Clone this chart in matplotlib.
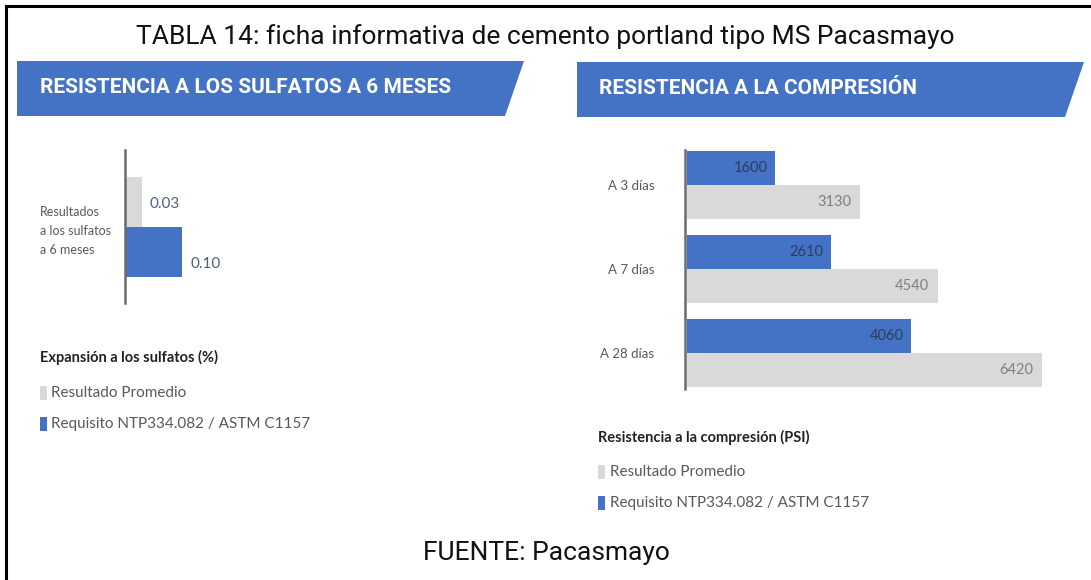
import matplotlib
matplotlib.use("Agg")
import matplotlib.pyplot as plt
from matplotlib.patches import Polygon, Rectangle
from matplotlib.lines import Line2D
from matplotlib import font_manager as fm

names = {f.name for f in fm.fontManager.ttflist}
narrow = "Liberation Sans Narrow" if "Liberation Sans Narrow" in names else "Roboto"
body = "Lato" if "Lato" in names else "DejaVu Sans"

# ---------------- data ----------------
title = "TABLA 14: ficha informativa de cemento portland tipo MS Pacasmayo"
source = "FUENTE: Pacasmayo"
left_header = "RESISTENCIA A LOS SULFATOS A 6 MESES"
right_header = "RESISTENCIA A LA COMPRESIÓN"

sulf_category = ["Resultados\na los sulfatos\na 6 meses"]
sulf_promedio = [0.03]
sulf_requisito = [0.10]
sulf_legend_title = "Expansión a los sulfatos (%)"

comp_categories = ["A 3 días", "A 7 días", "A 28 días"]
comp_requisito = [1600, 2610, 4060]
comp_promedio = [3130, 4540, 6420]
comp_legend_title = "Resistencia a la compresión (PSI)"

series_names = ["Resultado Promedio", "Requisito NTP334.082 / ASTM C1157"]

BLUE = "#4472c4"
GRAY = "#d9d9d9"
BANNER = "#4472c4"
TXT = "#595959"

W, H = 1091, 580
fig = plt.figure(figsize=(W / 100, H / 100), dpi=100)
fig.patch.set_facecolor("white")

def fx(px):
    return px / W

def fy(py):
    return 1 - py / H

# border (top and left)
fig.add_artist(Line2D([fx(6), fx(1091)], [fy(6), fy(6)], color="black", lw=2.2))
fig.add_artist(Line2D([fx(6), fx(6)], [fy(6), fy(580)], color="black", lw=2.2))

# title
fig.text(fx(545), fy(37), title, ha="center", va="center", fontsize=19,
         family=narrow, color="#111111")

# banners
def banner(x0, x1, x2, y0, y1, text, tx):
    poly = Polygon([(fx(x0), fy(y0)), (fx(x1), fy(y0)), (fx(x2), fy(y1)), (fx(x0), fy(y1))],
                   closed=True, transform=fig.transFigure, facecolor=BANNER, edgecolor="none")
    fig.add_artist(poly)
    fig.text(fx(tx), fy((y0 + y1) / 2 - 1), text, ha="left", va="center", color="white",
             fontsize=15, fontweight="bold", family=narrow)

banner(17, 524, 505, 61, 116, left_header, 40)
banner(577, 1084, 1065, 62, 117, right_header, 599)

# ---------------- left chart ----------------
sx_scale = 570.0  # px per unit
axl_w = 130
axl = fig.add_axes([fx(125), fy(303), axl_w / W, (303 - 150) / H])
ypos = list(range(len(sulf_category)))
bh = 0.5
for i in ypos:
    axl.barh(i - bh / 2, sulf_promedio[i], height=bh, color=GRAY, left=0.0004)
    axl.barh(i + bh / 2, sulf_requisito[i], height=bh, color=BLUE, left=0.0004)
    axl.annotate(f"{sulf_promedio[i]:.2f}", (sulf_promedio[i], i - bh / 2 + 0.03),
                 xytext=(5, 0), textcoords="offset points", va="center", ha="left",
                 fontsize=11, color="#4f5f78", family=body)
    axl.annotate(f"{sulf_requisito[i]:.2f}", (sulf_requisito[i], i + bh / 2 + 0.12),
                 xytext=(6, 0), textcoords="offset points", va="center", ha="left",
                 fontsize=11, color="#4f5f78", family=body)
axl.set_xlim(0, axl_w / sx_scale)
axl.set_ylim(0.765, -0.765)
for s in ["top", "right", "bottom"]:
    axl.spines[s].set_visible(False)
axl.spines["left"].set_color("#6b6b6b")
axl.spines["left"].set_linewidth(1.8)
axl.set_xticks([])
axl.set_yticks([])
axl.patch.set_alpha(0)

fig.text(fx(40), fy(231), sulf_category[0], ha="left", va="center", fontsize=9,
         color=TXT, family=body, linespacing=1.75)

# left legend
fig.text(fx(40), fy(357), sulf_legend_title, ha="left", va="center", fontsize=10.5,
         fontweight="bold", color="#222222", family=body)
for k, (col, yy) in enumerate([(GRAY, 393), (BLUE, 424)]):
    fig.add_artist(Rectangle((fx(40), fy(yy + 7)), 7 / W, 14 / H, transform=fig.transFigure,
                             facecolor=col, edgecolor="none"))
    fig.text(fx(51), fy(yy), series_names[k], ha="left", va="center", fontsize=11,
             color=TXT, family=body)

# ---------------- right chart ----------------
axr_w = 390
px_per_unit = 355 / 6420
axr = fig.add_axes([fx(685), fy(389), axr_w / W, (389 - 150) / H])
bh2 = 0.405
for i, cat in enumerate(comp_categories):
    axr.barh(i - bh2 / 2, comp_requisito[i], height=bh2, color=BLUE, left=30)
    axr.barh(i + bh2 / 2, comp_promedio[i], height=bh2, color=GRAY, left=30)
    axr.annotate(f"{comp_requisito[i]}", (comp_requisito[i], i - bh2 / 2),
                 xytext=(-4, 0), textcoords="offset points", va="center", ha="right",
                 fontsize=10.5, color="#2c3e5e", family=body)
    axr.annotate(f"{comp_promedio[i]}", (comp_promedio[i], i + bh2 / 2),
                 xytext=(-5, 0), textcoords="offset points", va="center", ha="right",
                 fontsize=10.5, color="#808080", family=body)
axr.set_xlim(0, axr_w / px_per_unit)
axr.set_ylim(2.43, -0.42)
axr.set_yticks(range(len(comp_categories)))
axr.set_yticklabels(comp_categories, fontsize=9.5, color=TXT, family=body)
axr.tick_params(axis="y", length=0, pad=22)
axr.set_xticks([])
for s in ["top", "right", "bottom"]:
    axr.spines[s].set_visible(False)
axr.spines["left"].set_color("#6b6b6b")
axr.spines["left"].set_linewidth(1.8)
axr.patch.set_alpha(0)

# right legend
fig.text(fx(598), fy(437), comp_legend_title, ha="left", va="center", fontsize=10.5,
         fontweight="bold", color="#222222", family=body)
for k, (col, yy) in enumerate([(GRAY, 472), (BLUE, 503)]):
    fig.add_artist(Rectangle((fx(598), fy(yy + 7)), 7 / W, 14 / H, transform=fig.transFigure,
                             facecolor=col, edgecolor="none"))
    fig.text(fx(610), fy(yy), series_names[k], ha="left", va="center", fontsize=11,
             color=TXT, family=body)

fig.text(fx(546), fy(553), source, ha="center", va="center", fontsize=19,
         family=narrow, color="#111111")

fig.savefig("out.png", dpi=100, facecolor="white")
